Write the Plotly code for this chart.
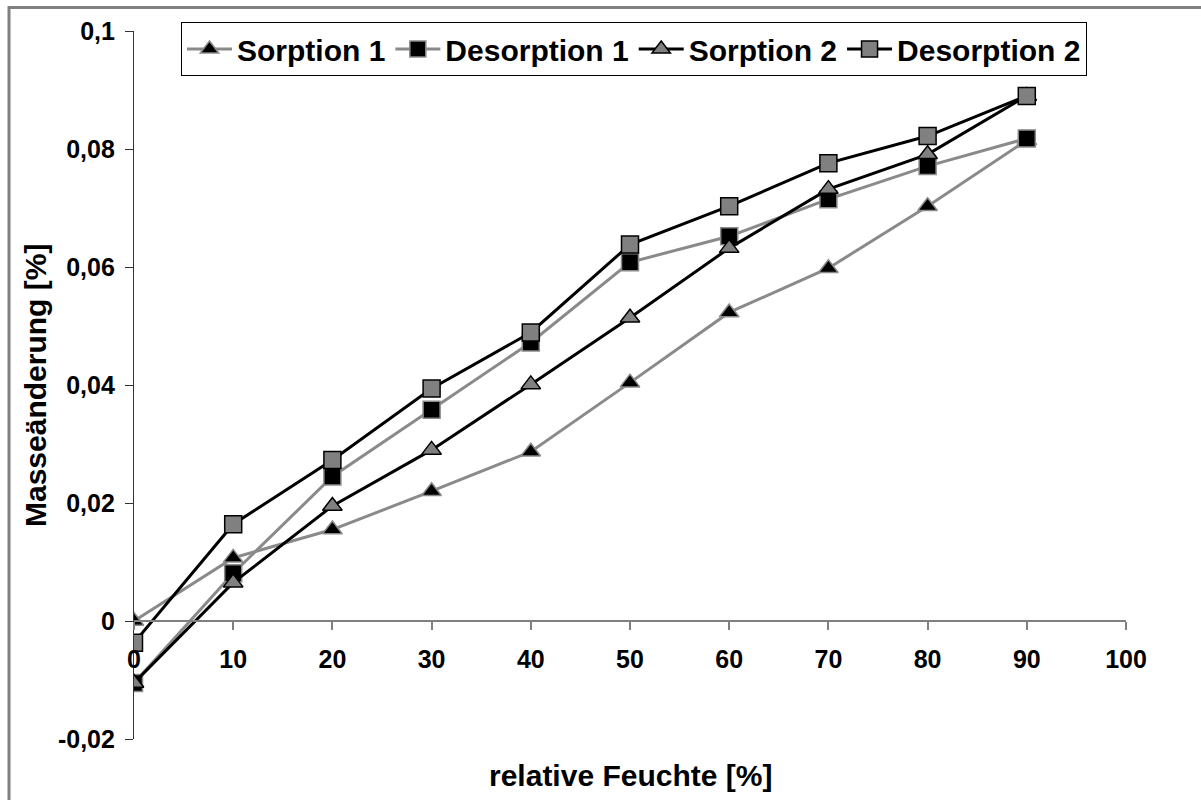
import plotly.graph_objects as go

x_vals = [0, 10, 20, 30, 40, 50, 60, 70, 80, 90]
sorption1 = [0.0, 0.0107, 0.0155, 0.0220, 0.0287, 0.0404, 0.0523, 0.0598, 0.0703, 0.0815]
desorption1 = [-0.0105, 0.0081, 0.0245, 0.0358, 0.0472, 0.0608, 0.0652, 0.0715, 0.0771, 0.0818]
sorption2 = [-0.0105, 0.0065, 0.0195, 0.0290, 0.0401, 0.0514, 0.0632, 0.0732, 0.0791, 0.0890]
desorption2 = [-0.0037, 0.0164, 0.0273, 0.0394, 0.0489, 0.0638, 0.0703, 0.0776, 0.0822, 0.0890]
names = ["Sorption 1", "Desorption 1", "Sorption 2", "Desorption 2"]
y_tickvals = [-0.02, 0, 0.02, 0.04, 0.06, 0.08, 0.1]
y_ticktext = ["-0,02", "0", "0,02", "0,04", "0,06", "0,08", "0,1"]
x_tickvals = [0, 10, 20, 30, 40, 50, 60, 70, 80, 90, 100]

FONT = "Liberation Sans, Arial, sans-serif"
GRAY = "#8a8a8a"
MGRAY = "#808080"

W, H = 1201, 800
L, R, T, B = 134, 75, 31, 61
pw, ph = W - L - R, H - T - B

def px2paper_x(px):
    return (px - L) / pw

def px2paper_y(py):
    return (H - B - py) / ph

fig = go.Figure()
styles = [
    (sorption1, GRAY, "triangle-up", "black", GRAY),
    (desorption1, GRAY, "square", "black", GRAY),
    (sorption2, "black", "triangle-up", MGRAY, "black"),
    (desorption2, "black", "square", MGRAY, "black"),
]
for name, (ys, lc, sym, mfill, mline) in zip(names, styles):
    fig.add_trace(go.Scatter(
        x=x_vals, y=ys, name=name, mode="lines+markers",
        line=dict(color=lc, width=3),
        marker=dict(symbol=sym, size=17, color=mfill, line=dict(color=mline, width=1.5)),
    ))

fig.update_layout(
    width=W, height=H,
    margin=dict(l=L, r=R, t=T, b=B, pad=0),
    paper_bgcolor="white", plot_bgcolor="white",
    separators=",.",
    font=dict(family=FONT, size=25, color="black"),
    showlegend=True,
    legend=dict(
        orientation="h", x=px2paper_x(181), y=px2paper_y(49),
        xanchor="left", yanchor="middle",
        bordercolor="black", borderwidth=1, bgcolor="white",
        font=dict(family=FONT, size=30, color="black", weight="bold"),
        itemwidth=45, tracegroupgap=0,
    ),
    xaxis=dict(
        range=[0, 100], tickvals=x_tickvals,
        anchor="free", position=1/6,
        showline=True, linecolor=MGRAY, linewidth=1.5,
        ticks="outside", ticklen=8, tickcolor=MGRAY, tickwidth=1.5,
        ticklabelstandoff=8,
        showgrid=False, zeroline=False,
        tickfont=dict(family=FONT, size=25, color="black", weight="bold"),
    ),
    yaxis=dict(
        range=[-0.02, 0.1], tickvals=y_tickvals, ticktext=y_ticktext,
        showline=True, linecolor="#333333", linewidth=1.2,
        ticks="outside", ticklen=8, tickcolor="#333333", tickwidth=1.2,
        ticklabelstandoff=5,
        showgrid=False, zeroline=False,
        tickfont=dict(family=FONT, size=25, color="black", weight="bold"),
    ),
    annotations=[
        dict(text="relative Feuchte [%]", xref="paper", yref="paper",
             x=px2paper_x(630), y=px2paper_y(775), xanchor="center", yanchor="middle",
             showarrow=False, font=dict(family=FONT, size=30, weight="bold")),
        dict(text="Masseänderung [%]", xref="paper", yref="paper",
             x=px2paper_x(35), y=px2paper_y(386), xanchor="center", yanchor="middle",
             textangle=-90, showarrow=False, font=dict(family=FONT, size=30, weight="bold")),
    ],
    shapes=[
        dict(type="rect", xref="paper", yref="paper",
             x0=px2paper_x(9), x1=px2paper_x(1215), y0=px2paper_y(815), y1=px2paper_y(7.5),
             line=dict(color=MGRAY, width=3), fillcolor="rgba(0,0,0,0)", layer="below"),
    ],
)

fig.write_html("out.html", config={"displayModeBar": False},
               post_script="document.body.style.margin='0';document.body.style.overflow='hidden';")
